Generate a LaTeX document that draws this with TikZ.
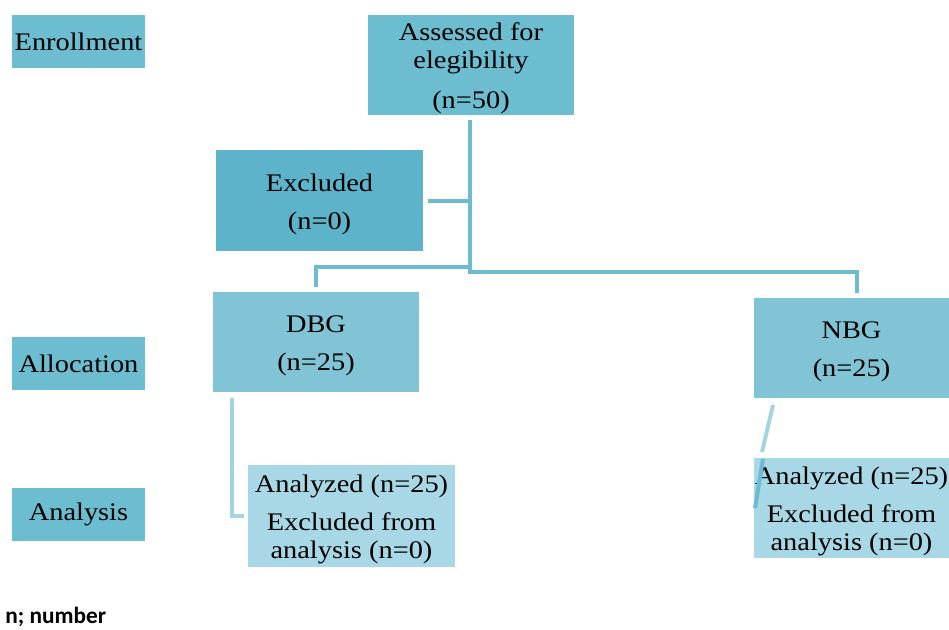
\documentclass[tikz,border=0pt]{standalone}
\usepackage{fontspec}
\setmainfont{Liberation Serif}[FakeStretch=1.12]
\newfontfamily\notefont{Carlito}
\definecolor{boxA}{HTML}{6CBDD0}
\definecolor{boxEx}{HTML}{5CB3CA}
\definecolor{boxG}{HTML}{80C4D5}
\definecolor{boxAn}{HTML}{A8D8E5}
\definecolor{lineA}{HTML}{6CBBD0}
\definecolor{lineL}{HTML}{A6D3E1}
\newcommand{\topst}{\rule{0pt}{18.5pt}}
\begin{document}
\begin{tikzpicture}[x=0.75pt,y=-0.75pt,
  fbox/.style={inner sep=0pt,align=center,font=\fontsize{19}{21}\selectfont,text=black},
  side/.style={fbox,fill=boxA,minimum width={133*0.75pt},minimum height={53*0.75pt}},
  conn/.style={draw=lineA,line width=3pt},
  connL/.style={draw=lineL,line width=3pt}]
\useasboundingbox (0,0) rectangle (949,629);
% side labels
\node[side] (enroll) at (78.5,41.5) {Enrollment};
\node[side] (alloc) at (78.5,363.5) {Allocation};
\node[side] (analysis) at (78.5,514.5) {Analysis};
% main boxes
\node[fbox,fill=boxA,minimum width={206*0.75pt},minimum height={100*0.75pt}] (assess) at (471,65)
  {\topst Assessed for\\elegibility\\[9pt](n=50)};
\node[fbox,fill=boxEx,minimum width={207*0.75pt},minimum height={101*0.75pt}] (excl) at (319.5,200.5)
  {\topst Excluded\\[7.5pt](n=0)};
\node[fbox,fill=boxG,minimum width={206*0.75pt},minimum height={100*0.75pt}] (dbg) at (316,342)
  {\topst DBG\\[7.5pt](n=25)};
\node[fbox,fill=boxG,minimum width={195*0.75pt},minimum height={100*0.75pt}] (nbg) at (851.5,348)
  {\topst NBG\\[7.5pt](n=25)};
\node[fbox,fill=boxAn,minimum width={207*0.75pt},minimum height={102*0.75pt}] (anl) at (351.5,516)
  {\topst Analyzed (n=25)\\[7.5pt]Excluded from\\analysis (n=0)};
\node[fbox,fill=boxAn,minimum width={195*0.75pt},minimum height={100*0.75pt}] (anr) at (851.5,508)
  {\topst Analyzed (n=25)\\[7.5pt]Excluded from\\analysis (n=0)};
% connectors
\coordinate (top) at (470,120);
\coordinate (jR) at (470,272);
\coordinate (nbgTop) at (857,293);
\coordinate (jEx) at (470,201);
\coordinate (exR) at (428,201);
\coordinate (jL) at (470,267);
\coordinate (dbgTop) at (316,287);
\draw[conn] (top) -- (jR) -| (nbgTop);
\draw[conn] (exR) -- (jEx);
\draw[conn] (jL) -| (dbgTop);
\coordinate (dbgOut) at (232,398);
\coordinate (anlIn) at (244,516);
\draw[connL] (dbgOut) |- (anlIn);
\coordinate (nbgOut) at (773,405);
\coordinate (nbgMid) at (762,452);
\coordinate (anrIn) at (763,459);
\coordinate (anrEnd) at (755,508);
\draw[connL] (nbgOut) -- (nbgMid);
\draw[conn] (anrIn) -- (anrEnd);
% note
\node[anchor=west,inner sep=0pt,font=\notefont\bfseries\fontsize{17.5}{20}\selectfont] (note) at (5,617) {n; number};
\end{tikzpicture}
\end{document}
